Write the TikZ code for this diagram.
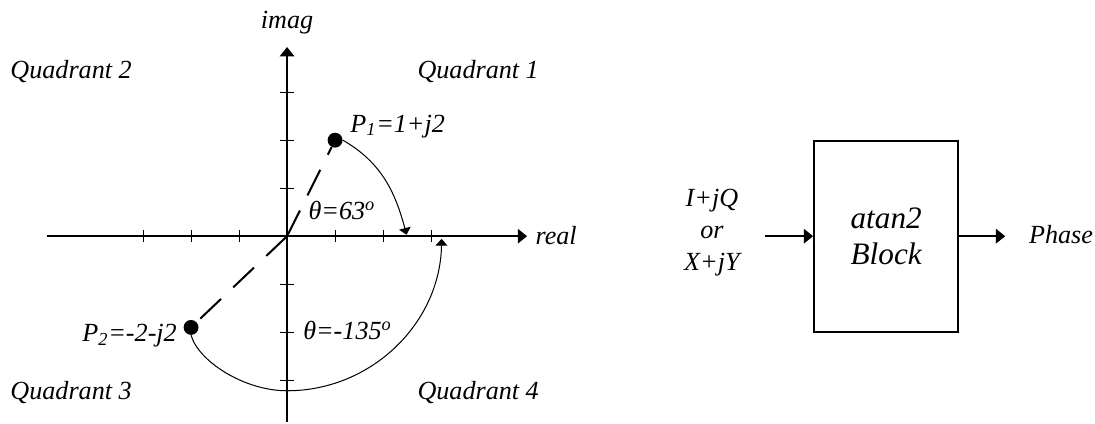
\documentclass[tikz,border=0pt]{standalone}
\usepackage{fontspec}
\setmainfont{Liberation Serif}
\usetikzlibrary{arrows.meta,positioning}

\begin{document}
\begin{tikzpicture}[
  txt/.style={font=\fontsize{15.5}{18.8}\selectfont\itshape, inner sep=0pt},
  bigtxt/.style={font=\fontsize{18.5}{21.7}\selectfont\itshape, align=center},
  axis/.style={line width=1.2pt, -{Triangle[length=5.5pt,width=8.5pt]}},
  sweep/.style={line width=0.6pt, -{Triangle[length=4pt,width=7pt]}},
  tickmark/.style={line width=0.6pt},
  vec/.style={line width=1.2pt, dash pattern=on 17pt off 10pt},
  dot/.style={circle, fill, inner sep=0pt, minimum size=0.31cm}]
  \useasboundingbox (-5.98,-3.9) rectangle (16.83,4.92);
  % axes and ticks
  \coordinate (o) at (0,0);
  \draw[axis] (-5,0) -- (5,0);
  \draw[axis] (0,-3.87) -- (0,3.94);
  \foreach \x in {-3,-2,-1,1,2,3} \draw[tickmark] (\x,-0.13) -- (\x,0.13);
  \foreach \y in {-3,-2,-1,1,2,3} \draw[tickmark] (-0.14,\y) -- (0.14,\y);
  \node[txt, anchor=base] (imag) at (0,4.33) {imag};
  \node[txt, anchor=base west] (real) at (5.17,-0.17) {real};
  % quadrants
  \node[txt, anchor=base west] (q1) at (2.71,3.28) {Quadrant 1};
  \node[txt, anchor=base west] (q2) at (-5.77,3.28) {Quadrant 2};
  \node[txt, anchor=base west] (q3) at (-5.77,-3.40) {Quadrant 3};
  \node[txt, anchor=base west] (q4) at (2.71,-3.40) {Quadrant 4};
  % points
  \node[dot] (p1) at (1,2) {};
  \node[dot] (p2) at (-2,-1.9) {};
  \draw[vec] (o) -- (p1);
  \draw[vec] (o) -- (p2);
  \node[txt, anchor=base west] (p1lbl) at (1.31,2.17) {P\textsubscript{1}=1+j2};
  \node[txt, anchor=base east] (p2lbl) at (-2.29,-2.2) {P\textsubscript{2}=-2-j2};
  % angles
  \coordinate (e1) at (2.49,0.03);
  \draw[sweep] (p1.east) to[out=-30,in=105] (e1);
  \draw[sweep] (p2.south) .. controls (-1.85,-2.6) and (-0.9,-3.22) .. (0,-3.22)
    arc[start angle=-90, end angle=-1, radius=3.22];
  \node[txt, anchor=base west] (th1) at (0.44,0.35) {θ=63\textsuperscript{o}};
  \node[txt, anchor=base west] (th2) at (0.33,-2.15) {θ=-135\textsuperscript{o}};
  % atan2 block
  \node[draw, line width=1.2pt, minimum width=3cm, minimum height=3.98cm, bigtxt]
    (blk) at (12.48,0) {atan2\\Block};
  \coordinate (in) at (9.96,0);
  \coordinate (out) at (14.96,0);
  \draw[axis] (in) -- (blk.west);
  \draw[axis] (blk.east) -- (out);
  \node[txt, align=center] (inlbl) at (8.85,0.07) {I+jQ\\or\\X+jY};
  \node[txt, anchor=base west] (phase) at (15.45,-0.15) {Phase};
\end{tikzpicture}
\end{document}
